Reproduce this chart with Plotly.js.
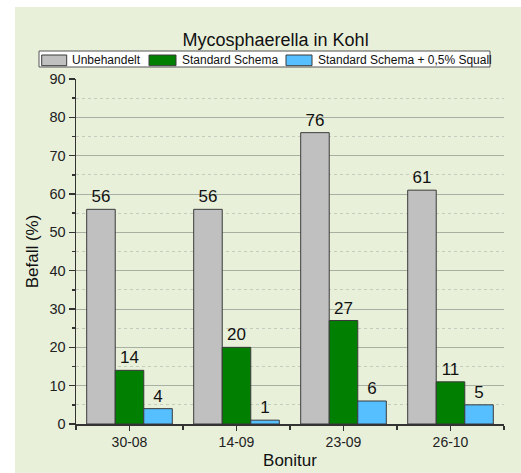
<!DOCTYPE html>
<html><head><meta charset="utf-8">
<script src="https://cdn.plot.ly/plotly-3.0.1.min.js"></script>
<style>html,body{margin:0;padding:0;background:#fff;}#chart{position:absolute;left:15px;top:7px;width:506px;height:466px;}</style>
</head><body><div id="chart"></div>
<script>
const categories = ["30-08", "14-09", "23-09", "26-10"];
const seriesNames = ["Unbehandelt", "Standard Schema", "Standard Schema + 0,5% Squall"];
const unbehandelt = [56, 56, 76, 61];
const standard = [14, 20, 27, 11];
const standardSquall = [4, 1, 6, 5];
const colors = ["#C0C0C0", "#007F00", "#55BFFF"];
const xpos = categories.map((c, i) => i);
const allSeries = [unbehandelt, standard, standardSquall];

const W = 506, H = 466, M = {l: 61, r: 17, t: 72, b: 49};
const pw = W - M.l - M.r, ph = H - M.t - M.b;
const px = v => (v - M.l) / pw;          // div pixel x -> paper x
const py = v => (H - M.b - v) / ph;      // div pixel y -> paper y

const traces = allSeries.map((vals, k) => ({
  type: "bar", x: xpos, y: vals, name: seriesNames[k], showlegend: false,
  marker: {color: colors[k], line: {color: "#3a3a3a", width: 1}},
  text: vals.map(String), textposition: "outside", cliponaxis: false,
  textfont: {family: "Liberation Sans, Arial, sans-serif", size: 17, color: "#111"}
}));

// custom legend (box, swatches, labels)
const legSw = [[26.7, 51.7], [134, 161], [271, 297]];
const shapes = [{type: "rect", xref: "paper", yref: "paper", x0: px(24), x1: px(475), y0: py(60), y1: py(44),
  fillcolor: "#fff", line: {color: "#555", width: 1}}];
const annotations = [];
seriesNames.forEach((n, k) => {
  shapes.push({type: "rect", xref: "paper", yref: "paper", x0: px(legSw[k][0]), x1: px(legSw[k][1]),
    y0: py(58.7), y1: py(48), fillcolor: colors[k], line: {color: "#3a3a3a", width: 1}});
  annotations.push({xref: "paper", yref: "paper", x: px(legSw[k][1] + 3.5), y: py(53), xanchor: "left", yanchor: "middle",
    text: n, showarrow: false, font: {size: 12, color: "#111"}});
});

const layout = {
  width: W, height: H,
  paper_bgcolor: "#E8F0DA", plot_bgcolor: "#E8F0DA",
  margin: M,
  font: {family: "Liberation Sans, Arial, sans-serif", color: "#222"},
  title: {text: "Mycosphaerella in Kohl", font: {size: 18, color: "#111"}, x: 0.515, xanchor: "center", y: 0.929, yanchor: "middle"},
  barmode: "group", bargap: 0.2, bargroupgap: 0,
  showlegend: false,
  shapes: shapes, annotations: annotations,
  xaxis: {range: [-0.5, 3.5], tickvals: xpos, ticktext: categories, showgrid: false, zeroline: false,
    showline: true, linecolor: "#333", linewidth: 1.5, ticks: "outside", ticklen: 5, tickcolor: "#333", tickwidth: 1.5,
    tickfont: {size: 14}, minor: {tickvals: [-0.5, 0.5, 1.5, 2.5, 3.5], ticks: "outside", ticklen: 4, tickcolor: "#333", showgrid: false},
    title: {text: "Bonitur", font: {size: 17, color: "#111"}, standoff: 5}},
  yaxis: {range: [0, 90], dtick: 10, showgrid: true, gridcolor: "#A8B0A4", gridwidth: 1, zeroline: false,
    showline: true, linecolor: "#333", linewidth: 1.5, ticks: "outside", ticklen: 6, tickcolor: "#333", tickwidth: 1.5,
    tickfont: {size: 14.5}, minor: {dtick: 5, ticks: "outside", ticklen: 3, tickcolor: "#333", showgrid: true, gridcolor: "#C4CCBE", griddash: "dot", gridwidth: 1},
    title: {text: "Befall (%)", font: {size: 17, color: "#111"}, standoff: 6}}
};
Plotly.newPlot("chart", traces, layout, {displayModeBar: false, staticPlot: true});
</script></body></html>
